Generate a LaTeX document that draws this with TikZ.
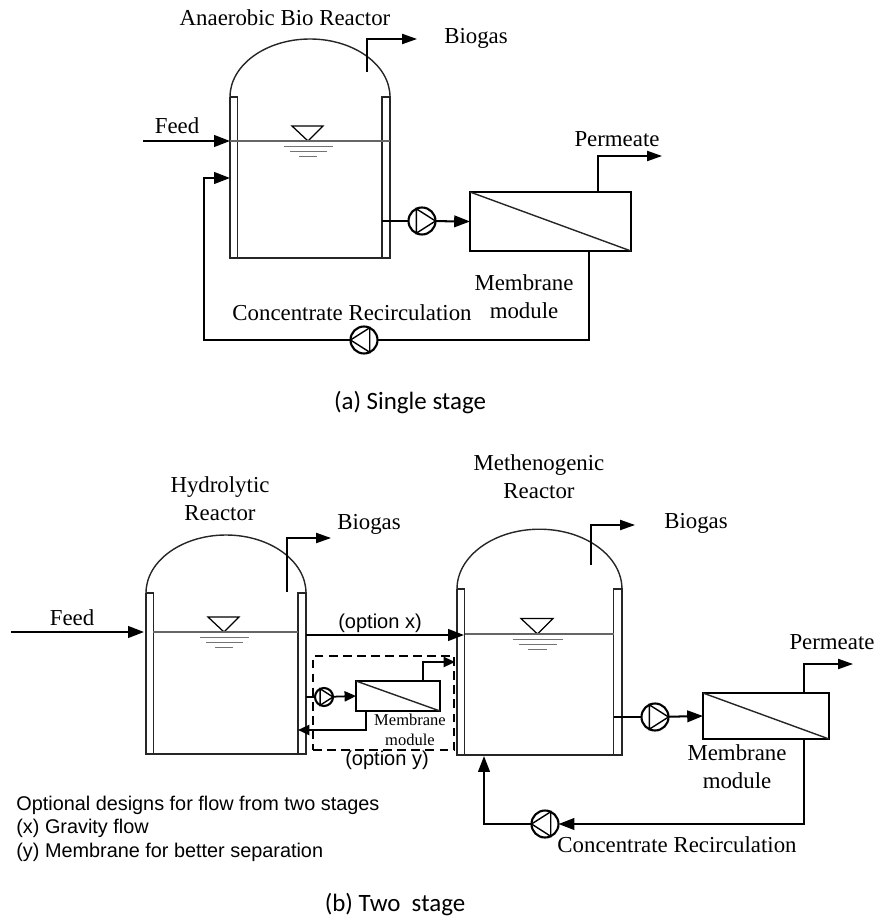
\documentclass[tikz,border=0pt]{standalone}
\usepackage{fontspec}
\setmainfont{Liberation Serif}
\newfontfamily\arialfont{Liberation Sans}
\newfontfamily\capfont{Carlito}
\usepackage{xcolor}
\usepackage{tikz}
\usetikzlibrary{arrows.meta}
\tikzset{
  wall/.style={line width=0.8pt,black!85},
  water/.style={line width=0.6pt,black!60},
  ripple/.style={line width=0.5pt,black!55},
  flow/.style={line width=1.15pt},
  flowto/.style={line width=1.15pt,-{Triangle[length=9pt,width=6.6pt]}},
  gasto/.style={line width=0.8pt,-{Triangle[length=8.5pt,width=5.8pt]}},
  minito/.style={line width=1pt,-{Triangle[length=6.5pt,width=5.8pt]}},
  optbox/.style={line width=0.6pt,dash pattern=on 5pt off 3pt},
  pumpbody/.style={draw,circle,line width=1.2pt,inner sep=0pt,outer sep=0pt},
  module/.style={draw,rectangle,line width=0.8pt,inner sep=0pt,outer sep=0pt},
  tag/.style={inner sep=0pt,align=center,font=\fontsize{13}{16}\selectfont},
  minitag/.style={inner sep=0pt,align=center,font=\fontsize{9.4}{11.4}\selectfont},
  opttag/.style={inner sep=0pt,font=\arialfont\fontsize{11.4}{13}\selectfont},
  note/.style={inner sep=0pt,anchor=west,font=\arialfont\fontsize{11.3}{13}\selectfont},
  captag/.style={inner sep=0pt,font=\capfont\fontsize{14.2}{17}\selectfont}
}
\newcommand{\vessel}[4]{
  \begin{scope}[shift={(#1,#2)},scale=#3]
  \draw[wall] (0,0) .. controls (0,-32) and (36,-58) .. (80,-58) .. controls (124,-58) and (160,-32) .. (160,0);
  \draw[wall] (0,0) -- (0,161) -- (160,161) -- (160,0) -- (152,0) -- (152,161);
  \draw[wall] (0,0) -- (7.5,0) -- (7.5,161);
  \draw[line width=0.7pt] (62,#4-15) -- (93,#4-15) -- (78,#4) -- cycle;
  \draw[ripple] (54,#4+5) -- (103,#4+5);
  \draw[ripple] (60,#4+10) -- (97,#4+10);
  \draw[ripple] (69,#4+15) -- (87,#4+15);
  \end{scope}
}
\newcommand{\pumpsym}[4]{
  \node[pumpbody,minimum size={2*#4*0.02cm}] (#1) at (#2) {};
  \draw[line width=0.8pt] ([shift={(#3+115:#4)}]#1.center) -- ([shift={(#3-115:#4)}]#1.center) -- ([shift={(#3:#4)}]#1.center) -- cycle;
}
\begin{document}
\begin{tikzpicture}[x=0.02cm,y=-0.02cm]
\useasboundingbox (0,0) rectangle (875,919);

\vessel{230}{97}{1}{44}
\draw[water] (230,141) -- (390,141);
\node[tag] (titleA) at (285,18) {Anaerobic Bio Reactor};
\coordinate (gasA) at (367,72); \coordinate (gasAend) at (417,39);
\draw[gasto] (gasA) |- (gasAend);
\node[tag] (biogasA) at (476,38) {Biogas};
\coordinate (feedA) at (143,141); \coordinate (inA) at (230,141);
\draw[flowto] (feedA) -- (inA);
\node[tag] (feedtagA) at (177,126) {Feed};
\coordinate (outA) at (382,221);
\pumpsym{pumpA}{422,221}{0}{13.5}
\node[module,minimum width=3.22cm,minimum height=1.18cm] (modA) at (550.5,221.5) {};
\draw[wall] (modA.north west) -- (modA.south east);
\draw[flow] (outA) -- (pumpA);
\draw[flowto] (pumpA) -- (modA.west);
\coordinate (permA) at (598,192); \coordinate (permAend) at (662,156);
\draw[gasto] (permA) |- (permAend);
\node[tag] (permtagA) at (617,139) {Permeate};
\node[tag] (modtagA) at (524,297) {Membrane\\module};
\pumpsym{pumpB}{364,340}{180}{13.5}
\coordinate (conA) at (589,251); \coordinate (retA) at (204,178); \coordinate (backA) at (230,178);
\draw[flow] (conA) |- (pumpB);
\draw[flowto] (pumpB) -| (retA) -- (backA);
\node[tag] (rectagA) at (352,313) {Concentrate Recirculation};
\node[captag] (capA) at (410,403) {(a) Single stage};

\vessel{146}{593}{1}{39}
\draw[water] (153,632) -- (298,632);
\node[tag] (titleB) at (220,499) {Hydrolytic\\Reactor};
\coordinate (gasB) at (287,592); \coordinate (gasBend) at (331,538);
\draw[gasto] (gasB) |- (gasBend);
\node[tag] (biogasB) at (369,524) {Biogas};
\coordinate (feedB) at (11,632); \coordinate (inB) at (144,632);
\draw[flowto] (feedB) -- (inB);
\node[tag] (feedtagB) at (72,618) {Feed};

\vessel{457}{589}{1.031}{43.6}
\draw[water] (465,634) -- (614,634);
\node[tag] (titleC) at (539,477) {Methenogenic\\Reactor};
\coordinate (gasC) at (591,565); \coordinate (gasCend) at (635,525);
\draw[gasto] (gasC) |- (gasCend);
\node[tag] (biogasC) at (696,523) {Biogas};

\coordinate (outBx) at (306,635); \coordinate (inCx) at (464,635);
\draw[flowto] (outBx) -- (inCx);
\node[opttag] (tagx) at (380,623) {(option x)};
\node[module,optbox,minimum width=2.82cm,minimum height=1.88cm] (boxM) at (383.5,703) {};
\node[opttag] (tagy) at (387,760) {(option y)};
\coordinate (outBy) at (306,697);
\pumpsym{pumpM}{324,697}{0}{9}
\node[module,minimum width=1.68cm,minimum height=0.6cm] (modM) at (398,696) {};
\draw[wall] (modM.north west) -- (modM.south east);
\draw[flow] (outBy) -- (pumpM);
\draw[minito] (pumpM) -- (modM.west);
\coordinate (permM) at (423,681); \coordinate (permMend) at (455,662);
\draw[minito] (permM) |- (permMend);
\coordinate (conM) at (366,711); \coordinate (backM) at (298,730);
\draw[minito] (conM) |- (backM);
\node[minitag] (modtagM) at (410,730) {Membrane\\module};

\coordinate (outC) at (614,717);
\pumpsym{pumpC}{655,717}{0}{13.5}
\node[module,minimum width=2.52cm,minimum height=0.92cm] (modC) at (766,716) {};
\draw[wall] (modC.north west) -- (modC.south east);
\draw[flow] (outC) -- (pumpC);
\draw[flowto] (pumpC) -- (modC.west);
\coordinate (permC) at (804,693); \coordinate (permCend) at (853,664);
\draw[gasto] (permC) |- (permCend);
\node[tag] (permtagC) at (832,642) {Permeate};
\node[tag] (modtagC) at (737,767) {Membrane\\module};
\pumpsym{pumpD}{545,824}{180}{13.5}
\coordinate (conC) at (804,739); \coordinate (retC) at (484,756);
\draw[flowto] (conC) |- (pumpD);
\draw[flowto] (pumpD) -| (retC);
\node[tag] (rectagC) at (677,845) {Concentrate Recirculation};

\node[note] (noteA) at (16,805) {Optional designs for flow from two stages};
\node[note] (noteB) at (16,828) {(x) Gravity flow};
\node[note] (noteC) at (16,852) {(y) Membrane for better separation};
\node[captag] (capB) at (395,905) {(b) Two\ \ stage};
\end{tikzpicture}
\end{document}
